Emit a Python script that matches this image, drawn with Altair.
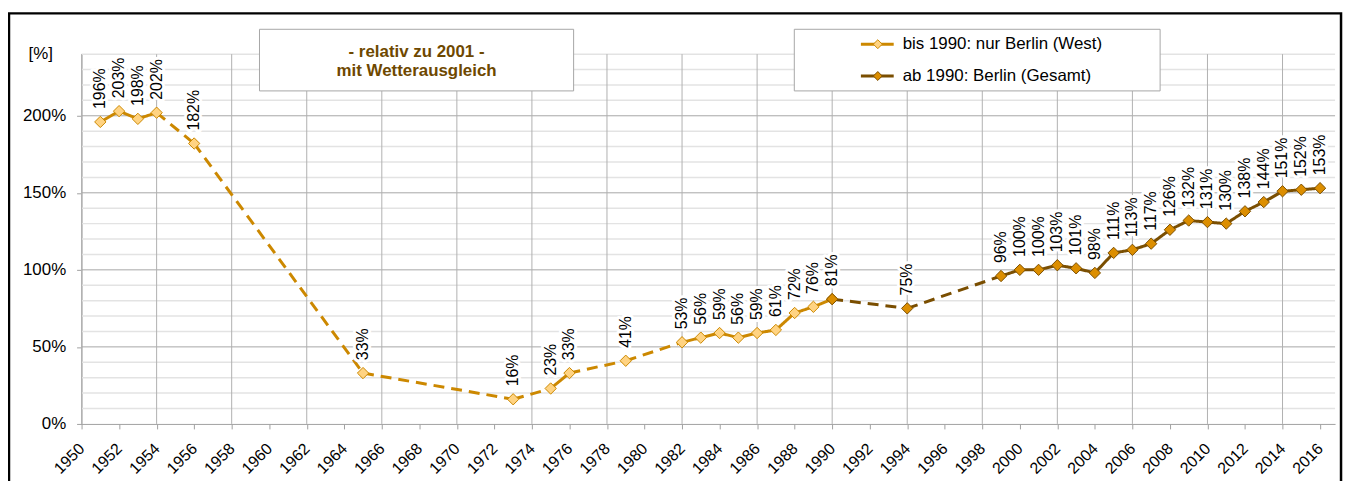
import altair as alt
import pandas as pd

# ---------------- data ----------------
west_years = [1951, 1952, 1953, 1954, 1956, 1965, 1973, 1975, 1976, 1979,
              1982, 1983, 1984, 1985, 1986, 1987, 1988, 1989, 1990]
west_values = [196, 203, 198, 202, 182, 33, 16, 23, 33, 41,
               53, 56, 59, 56, 59, 61, 72, 76, 81]
total_years = [1990, 1994, 1999, 2000, 2001, 2002, 2003, 2004, 2005, 2006,
               2007, 2008, 2009, 2010, 2011, 2012, 2013, 2014, 2015, 2016]
total_values = [81, 75, 96, 100, 100, 103, 101, 98, 111, 113,
                117, 126, 132, 131, 130, 138, 144, 151, 152, 153]
series_names = ["bis 1990: nur Berlin (West)", "ab 1990: Berlin (Gesamt)"]
x_tick_years = [1950, 1952, 1954, 1956, 1958, 1960, 1962, 1964, 1966, 1968, 1970,
                1972, 1974, 1976, 1978, 1980, 1982, 1984, 1986, 1988, 1990, 1992,
                1994, 1996, 1998, 2000, 2002, 2004, 2006, 2008, 2010, 2012, 2014, 2016]
x_grid_years = [1950, 1954, 1958, 1962, 1966, 1970, 1974, 1978, 1982, 1986, 1990,
                1994, 1998, 2002, 2006, 2010, 2014]
y_label_values = [0, 50, 100, 150, 200]
y_major_grid = [50, 100, 150, 200]
y_minor_grid = [10, 20, 30, 40, 60, 70, 80, 90, 110, 120, 130, 140, 160, 170,
                180, 190, 210, 220, 230, 240]
title_lines = ["- relativ zu 2001 -", "mit Wetterausgleich"]
unit_label = "[%]"

# ---------------- style ----------------
FONT = "Liberation Sans"
W, H = 1261, 372
line_colors = ["#CC8800", "#7A4E00"]
marker_fills = ["#FFD382", "#DC8E00"]
marker_strokes = ["#CC8800", "#7A4E00"]
title_color = "#6E4800"

x_scale = alt.Scale(domain=[1950, 2016.8], nice=False, zero=False)
y_scale = alt.Scale(domain=[0, 240], nice=False)
x_axis = alt.Axis(values=x_tick_years, format="d", labelAngle=315, labelAlign="right",
                  labelBaseline="middle", labelPadding=17, tickSize=5, grid=False,
                  domainColor="#A0A0A0", tickColor="#A0A0A0", labelFont=FONT,
                  labelFontSize=16, labelColor="black", labelOverlap=False,
                  labelFlush=False, labelBound=False, title=None)
y_axis = alt.Axis(values=y_label_values, labelExpr="datum.value + '%'", tickSize=5,
                  labelPadding=11, grid=False, domainColor="#A0A0A0", tickColor="#A0A0A0",
                  labelFont=FONT, labelFontSize=17, labelColor="black", title=None)


def X(field="year"):
    return alt.X(f"{field}:Q", scale=x_scale, axis=x_axis)


def Y(field="value"):
    return alt.Y(f"{field}:Q", scale=y_scale, axis=y_axis)


# ---------------- tables ----------------
rows = []
seg = 0
for s, (yrs, vals) in enumerate([(west_years, west_values), (total_years, total_values)]):
    for i in range(len(yrs) - 1):
        style = "solid" if yrs[i + 1] - yrs[i] == 1 else "dashed"
        for j in (i, i + 1):
            rows.append({"seg": seg, "series": series_names[s], "style": style,
                         "year": yrs[j], "value": vals[j]})
        seg += 1
seg_df = pd.DataFrame(rows)

pts_df = pd.concat([
    pd.DataFrame({"year": west_years, "value": west_values, "series": series_names[0]}),
    pd.DataFrame({"year": total_years, "value": total_values, "series": series_names[1]}),
], ignore_index=True)
lab_df = pts_df.drop_duplicates(subset="year", keep="last").copy()
lab_df["label"] = lab_df["value"].astype(str) + "%"

# ---------------- layers ----------------
border = alt.Chart(pd.DataFrame({"a": [0]})).mark_rect(
    filled=False, stroke="black", strokeWidth=2.5
).encode(x=alt.value(-73), x2=alt.value(1267), y=alt.value(-41), y2=alt.value(H + 90))

minor_grid = alt.Chart(pd.DataFrame({"value": y_minor_grid})).mark_rule(
    color="#E3E3E3", strokeWidth=1.5
).encode(y=Y(), x=alt.value(0), x2=alt.value(W))

major_grid = alt.Chart(pd.DataFrame({"value": y_major_grid})).mark_rule(
    color="#A6A6A6", strokeWidth=1
).encode(y=Y(), x=alt.value(0), x2=alt.value(W))

vert_grid = alt.Chart(pd.DataFrame({"year": x_grid_years})).mark_rule(
    color="#B0B0B0", strokeWidth=1
).encode(x=X(), y=alt.value(0), y2=alt.value(H))

unit = alt.Chart(pd.DataFrame({"t": [unit_label]})).mark_text(
    font=FONT, fontSize=17, color="black", align="center", baseline="middle"
).encode(x=alt.value(-41), y=alt.value(0), text="t:N")

title_box = alt.Chart(pd.DataFrame({"a": [0]})).mark_rect(
    fill="white", stroke="#A6A6A6", strokeWidth=1
).encode(x=alt.value(179), x2=alt.value(495), y=alt.value(-25), y2=alt.value(37))

title_texts = [
    alt.Chart(pd.DataFrame({"t": [t]})).mark_text(
        font=FONT, fontSize=17, fontWeight="bold", color=title_color,
        align="center", baseline="middle"
    ).encode(x=alt.value(337), y=alt.value(yy), text="t:N")
    for t, yy in zip(title_lines, [-2, 17])
]

legend_box = alt.Chart(pd.DataFrame({"a": [0]})).mark_rect(
    fill="white", stroke="#A6A6A6", strokeWidth=1
).encode(x=alt.value(717), x2=alt.value(1085), y=alt.value(-25), y2=alt.value(37))

legend_layers = []
for i, ry in enumerate([-10, 22]):
    d = pd.DataFrame({"label": [series_names[i]]})
    legend_layers.append(alt.Chart(d).mark_rule(color=line_colors[i], strokeWidth=3).encode(
        x=alt.value(784), x2=alt.value(817), y=alt.value(ry)))
    legend_layers.append(alt.Chart(d).mark_point(
        shape="diamond", filled=True, size=80, fill=marker_fills[i],
        stroke=marker_strokes[i], strokeWidth=1, opacity=1
    ).encode(x=alt.value(801), y=alt.value(ry)))
    legend_layers.append(alt.Chart(d).mark_text(
        font=FONT, fontSize=17, color="black", align="left", baseline="middle"
    ).encode(x=alt.value(826), y=alt.value(ry), text="label:N"))

lines = alt.Chart(seg_df).mark_line(strokeWidth=3, strokeCap="butt").encode(
    x=X(), y=Y(),
    color=alt.Color("series:N", scale=alt.Scale(domain=series_names, range=line_colors), legend=None),
    strokeDash=alt.StrokeDash("style:N", scale=alt.Scale(domain=["solid", "dashed"],
                                                         range=[[1, 0], [11, 7]]), legend=None),
    detail="seg:N",
)

points = alt.Chart(pts_df).mark_point(shape="diamond", filled=True, size=130,
                                      strokeWidth=1, opacity=1).encode(
    x=X(), y=Y(),
    fill=alt.Fill("series:N", scale=alt.Scale(domain=series_names, range=marker_fills), legend=None),
    stroke=alt.Stroke("series:N", scale=alt.Scale(domain=series_names, range=marker_strokes), legend=None),
)

halo = alt.Chart(lab_df).mark_text(
    angle=270, align="left", baseline="middle", dx=13, font=FONT, fontSize=16,
    color="white", stroke="white", strokeWidth=6, strokeJoin="round"
).encode(x=X(), y=Y(), text="label:N")

labels = alt.Chart(lab_df).mark_text(
    angle=270, align="left", baseline="middle", dx=13, font=FONT, fontSize=16,
    color="black"
).encode(x=X(), y=Y(), text="label:N")

chart = alt.layer(
    border, minor_grid, major_grid, vert_grid, unit, title_box, *title_texts,
    legend_box, *legend_layers, lines, points, halo, labels
).properties(
    width=W, height=H,
    autosize=alt.AutoSizeParams(type="none"),
    padding={"left": 74, "top": 45, "right": 11, "bottom": 56},
).configure_view(strokeWidth=0)

chart.save("out.html", embed_options={"renderer": "svg", "actions": False})
